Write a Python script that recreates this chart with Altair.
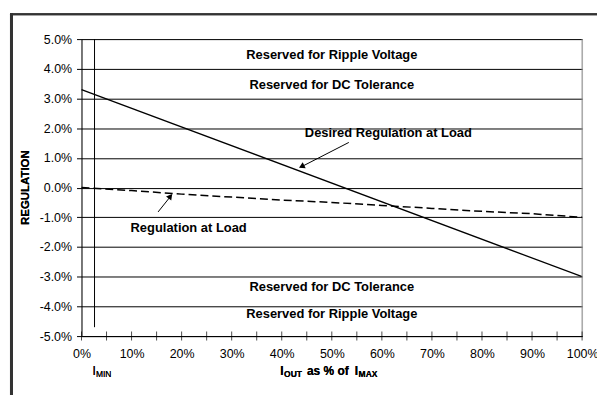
import altair as alt
import pandas as pd

# ---- data ----
x_desired = [0, 100]
y_desired = [3.3, -3.0]
x_load = [0, 10, 20, 30, 40, 50, 60, 70, 80, 90, 100]
y_load = [0.0, -0.1, -0.22, -0.32, -0.42, -0.5, -0.6, -0.7, -0.8, -0.88, -1.0]
x_tick_values = list(range(0, 101, 5))
x_label_values = list(range(0, 101, 10))
y_tick_values = list(range(-5, 6))
imin_x = [2.6]
imin_top = [5.0]
imin_bottom = [-4.7]

band_labels = ["Reserved for Ripple Voltage", "Reserved for DC Tolerance",
               "Reserved for DC Tolerance", "Reserved for Ripple Voltage"]
band_x = [50, 50, 50, 50]
band_y = [4.45, 3.45, -3.35, -4.25]

note_labels = ["Desired Regulation at Load", "Regulation at Load"]
note_x = [61.3, 21.4]
note_y = [1.83, -1.35]

arrow_x = [53.4, 15.3]
arrow_y = [1.52, -0.82]
arrow_x2 = [43.8, 18.0]
arrow_y2 = [0.69, -0.25]
head_x = [43.97, 17.76]
head_y = [0.71, -0.29]
head_angle = [243, 38]

FONT = "Liberation Sans"

xs = alt.Scale(domain=[0, 100], nice=False, zero=False)
ys = alt.Scale(domain=[-5, 5], nice=False, zero=False)

desired = pd.DataFrame({"x": x_desired, "y": y_desired})
load = pd.DataFrame({"x": x_load, "y": y_load})
ticks = pd.DataFrame({"x": x_tick_values, "y": [-5] * len(x_tick_values)})
imin = pd.DataFrame({"x": imin_x, "y": imin_top, "y2": imin_bottom})
bands = pd.DataFrame({"x": band_x, "y": band_y, "t": band_labels})
notes = pd.DataFrame({"x": note_x, "y": note_y, "t": note_labels})
arrows = pd.DataFrame({"x": arrow_x, "y": arrow_y, "x2": arrow_x2, "y2": arrow_y2})
heads = pd.DataFrame({"x": head_x, "y": head_y, "a": head_angle})
right_edge = pd.DataFrame({"x": [100], "y": [-5], "y2": [5]})

x_axis = alt.Axis(values=x_label_values, labelExpr="datum.value + '%'", ticks=False,
                  grid=False, domainColor="black", labelPadding=12, title=None,
                  labelFontSize=12.5, labelColor="black", labelFont=FONT,
                  labelOverlap=False, labelFlush=False)
y_axis = alt.Axis(values=y_tick_values,
                  labelExpr="(datum.value < 0 ? '-' : '') + format(abs(datum.value), '.1f') + '%'",
                  grid=True, gridColor="black", gridOpacity=1, tickColor="black",
                  tickSize=5, domainColor="black", labelPadding=5, title=None,
                  labelFontSize=12.5, labelColor="black", labelFont=FONT,
                  labelOverlap=False, labelFlush=False)


def X(field="x:Q"):
    return alt.X(field, scale=xs, axis=x_axis)


def Y(field="y:Q"):
    return alt.Y(field, scale=ys, axis=y_axis)


base_line = alt.Chart(desired).mark_line(color="black", strokeWidth=1.3).encode(x=X(), y=Y())

load_line = alt.Chart(load).mark_line(color="black", strokeWidth=1.5, strokeDash=[8, 4]).encode(
    x=X(), y=Y())

right_rule = alt.Chart(right_edge).mark_rule(color="#888888", strokeWidth=1).encode(
    x=X(), y=Y(), y2="y2:Q")

imin_rule = alt.Chart(imin).mark_rule(color="black", strokeWidth=1).encode(
    x=X(), y=Y(), y2="y2:Q")

tick_marks = alt.Chart(ticks).mark_tick(color="black", orient="vertical", size=9, thickness=1).encode(
    x=X(), y=Y())

band_text = alt.Chart(bands).mark_text(font=FONT, fontSize=13, fontWeight="bold",
                                       color="black", align="center", baseline="middle").encode(
    x=X(), y=Y(), text="t:N")

note_text = alt.Chart(notes).mark_text(font=FONT, fontSize=13, fontWeight="bold",
                                       color="black", align="center", baseline="middle").encode(
    x=X(), y=Y(), text="t:N")

arrow_rules = alt.Chart(arrows).mark_rule(color="black", strokeWidth=1).encode(
    x=X(), y=Y(), x2="x2:Q", y2="y2:Q")

arrow_heads = alt.Chart(heads).mark_point(shape="triangle-up", filled=True, color="black",
                                          size=45, opacity=1).encode(
    x=X(), y=Y(), angle=alt.Angle("a:Q", scale=None))

# axis titles built from text pieces (for subscripts)
y_title = alt.Chart(desired).mark_text(text="REGULATION", font=FONT, fontSize=11.5, fontWeight="bold",
                                       angle=270, align="center", baseline="middle", color="black").encode(
    x=alt.value(-56), y=alt.value(149.5))

xt_I1 = alt.Chart(desired).mark_text(text="I", font=FONT, fontSize=12, fontWeight="bold",
                                     align="left", baseline="middle", color="black").encode(
    x=alt.value(200), y=alt.value(334))
xt_out = alt.Chart(desired).mark_text(text="OUT", font=FONT, fontSize=8.5, fontWeight="bold",
                                      align="left", baseline="middle", color="black").encode(
    x=alt.value(204), y=alt.value(337))
xt_mid = alt.Chart(desired).mark_text(text="as % of", font=FONT, fontSize=12, fontWeight="bold",
                                      align="left", baseline="middle", color="black").encode(
    x=alt.value(227), y=alt.value(334))
xt_I2 = alt.Chart(desired).mark_text(text="I", font=FONT, fontSize=12, fontWeight="bold",
                                     align="left", baseline="middle", color="black").encode(
    x=alt.value(275), y=alt.value(334))
xt_max = alt.Chart(desired).mark_text(text="MAX", font=FONT, fontSize=8.5, fontWeight="bold",
                                      align="left", baseline="middle", color="black").encode(
    x=alt.value(279), y=alt.value(337))

imin_I = alt.Chart(desired).mark_text(text="I", font=FONT, fontSize=12, align="left",
                                      baseline="middle", color="black").encode(
    x=alt.value(11), y=alt.value(334))
imin_sub = alt.Chart(desired).mark_text(text="MIN", font=FONT, fontSize=8.5, align="left",
                                        baseline="middle", color="black").encode(
    x=alt.value(14.5), y=alt.value(337))

# outer frame
frame_left = alt.Chart(desired).mark_rect(color="#333333").encode(
    x=alt.value(-72), x2=alt.value(-69), y=alt.value(-26), y2=alt.value(400))
frame_top = alt.Chart(desired).mark_rect(color="#333333").encode(
    x=alt.value(-72), x2=alt.value(540), y=alt.value(-26), y2=alt.value(-24))

chart = alt.layer(
    base_line, right_rule, imin_rule, tick_marks, load_line,
    band_text, note_text, arrow_rules, arrow_heads,
    y_title, xt_I1, xt_out, xt_mid, xt_I2, xt_max, imin_I, imin_sub,
    frame_left, frame_top,
).properties(
    width=504, height=299,
    autosize=alt.AutoSizeParams(type="none"),
    padding={"left": 74, "top": 30, "right": 15, "bottom": 58},
    background="white",
).configure_view(stroke=None).configure(font=FONT)

chart.save("out.html", embed_options={"renderer": "svg", "actions": False})
